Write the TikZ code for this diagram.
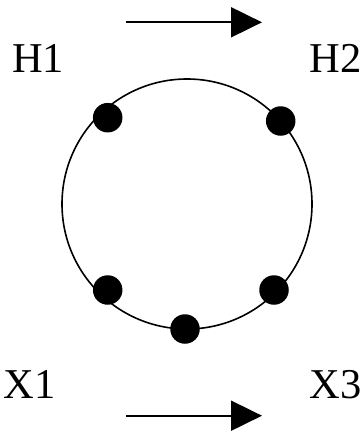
\documentclass[tikz,border=0pt]{standalone}
\usepackage{fontspec}
\setmainfont{Liberation Serif}
\usetikzlibrary{arrows.meta}
\begin{document}
\begin{tikzpicture}[x=1pt,y=-1pt,
  lbl/.style={inner sep=0pt,anchor=base west,font=\fontsize{42.5}{50}\selectfont},
  dot/.style={circle,fill=black,inner sep=0pt,minimum size=29.5pt},
  flow/.style={line width=2pt,-{Triangle[length=31pt,width=30pt]}}]
\useasboundingbox (0,0) rectangle (362,431);
\node[lbl] (h1) at (11.9,72.7) {H1};
\node[lbl] (h2) at (309.5,72.7) {H2};
\node[lbl] (x1) at (3.6,398.3) {X1};
\node[lbl] (x3) at (309.5,398.3) {X3};
\node[circle,draw,line width=1.6pt,minimum size=250pt,inner sep=0pt] (ring) at (187,204) {};
\node[dot] (d1) at (107.7,117.7) {};
\node[dot] (d2) at (280.7,121) {};
\node[dot] (d3) at (107.7,290) {};
\node[dot] (d4) at (274,290) {};
\node[dot] (d5) at (185,329) {};
\coordinate (a1) at (126,22.3);
\coordinate (a2) at (262,22.3);
\coordinate (b1) at (126,415.7);
\coordinate (b2) at (262,415.7);
\draw[flow] (a1) -- (a2);
\draw[flow] (b1) -- (b2);
\end{tikzpicture}
\end{document}
